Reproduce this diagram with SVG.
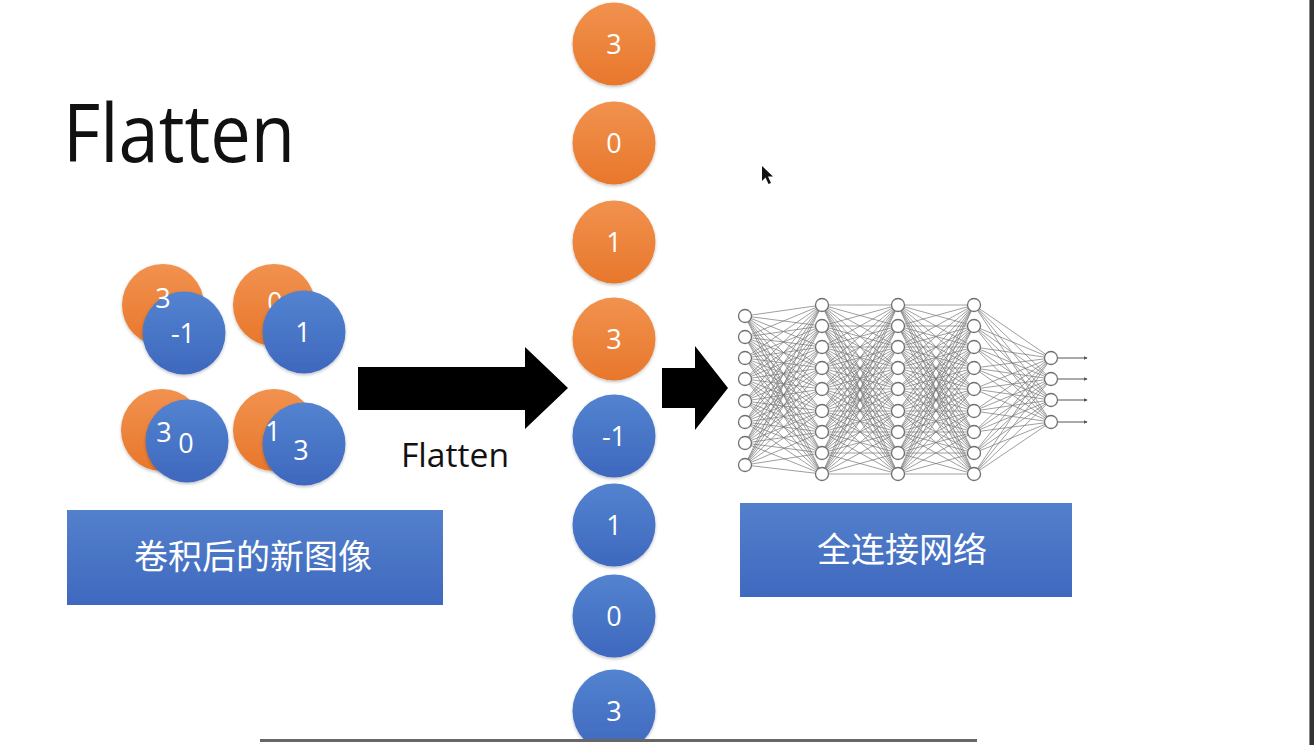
<svg xmlns="http://www.w3.org/2000/svg" xmlns:xlink="http://www.w3.org/1999/xlink" width="1314" height="745" viewBox="0 0 1314 745">
<defs>
<linearGradient id="og" x1="0" y1="0" x2="0" y2="1"><stop offset="0" stop-color="#F1924F"/><stop offset="1" stop-color="#E8772B"/></linearGradient>
<linearGradient id="bg" x1="0" y1="0" x2="0" y2="1"><stop offset="0" stop-color="#5383D0"/><stop offset="1" stop-color="#3E68BE"/></linearGradient>
<linearGradient id="boxg" x1="0" y1="0" x2="0" y2="1"><stop offset="0" stop-color="#5380CC"/><stop offset="1" stop-color="#3F69BF"/></linearGradient>
<filter id="sh" x="-20%" y="-20%" width="140%" height="140%"><feDropShadow dx="0" dy="1.5" stdDeviation="1.5" flood-color="#000" flood-opacity="0.25"/></filter>
<marker id="ah" viewBox="0 0 6 6" refX="5" refY="3" markerWidth="4" markerHeight="4" orient="auto"><path d="M0 0L6 3L0 6Z" fill="#555"/></marker>
<path id="ebb" d="M0 305L76 305M0 305L76 326M0 305L76 347M0 305L76 368M0 305L76 389M0 305L76 411M0 305L76 432M0 305L76 453M0 305L76 474M0 326L76 305M0 326L76 326M0 326L76 347M0 326L76 368M0 326L76 389M0 326L76 411M0 326L76 432M0 326L76 453M0 326L76 474M0 347L76 305M0 347L76 326M0 347L76 347M0 347L76 368M0 347L76 389M0 347L76 411M0 347L76 432M0 347L76 453M0 347L76 474M0 368L76 305M0 368L76 326M0 368L76 347M0 368L76 368M0 368L76 389M0 368L76 411M0 368L76 432M0 368L76 453M0 368L76 474M0 389L76 305M0 389L76 326M0 389L76 347M0 389L76 368M0 389L76 389M0 389L76 411M0 389L76 432M0 389L76 453M0 389L76 474M0 411L76 305M0 411L76 326M0 411L76 347M0 411L76 368M0 411L76 389M0 411L76 411M0 411L76 432M0 411L76 453M0 411L76 474M0 432L76 305M0 432L76 326M0 432L76 347M0 432L76 368M0 432L76 389M0 432L76 411M0 432L76 432M0 432L76 453M0 432L76 474M0 453L76 305M0 453L76 326M0 453L76 347M0 453L76 368M0 453L76 389M0 453L76 411M0 453L76 432M0 453L76 453M0 453L76 474M0 474L76 305M0 474L76 326M0 474L76 347M0 474L76 368M0 474L76 389M0 474L76 411M0 474L76 432M0 474L76 453M0 474L76 474"/>
</defs>
<style>
.o{fill:url(#og);filter:url(#sh)}
.b{fill:url(#bg);filter:url(#sh)}
.num{font-family:"Open Sans","Liberation Sans",sans-serif;font-size:27px;fill:#fff;text-anchor:middle}
.box{fill:url(#boxg)}
.cjk{font-family:"Noto Sans CJK SC","Noto Sans",sans-serif;font-size:34px;fill:#fff;text-anchor:middle}
.edge{stroke:#767676;stroke-width:0.7;fill:none}
.node{fill:#fff;stroke:#707070;stroke-width:1.3}
.arrow{fill:#000}
</style>
<rect width="1314" height="745" fill="#fff"/>

<g id="title"><text x="63" y="162" font-family="'Open Sans','Liberation Sans',sans-serif" font-size="80" fill="#111" textLength="232" lengthAdjust="spacingAndGlyphs">Flatten</text></g>

<g id="feature-map-1">
<circle class="o" cx="163" cy="305" r="41"/>
<circle class="b" cx="184" cy="333" r="41.5"/>
<text class="num" x="163" y="308">3</text>
<text class="num" x="183" y="343">-1</text>
</g>
<g id="feature-map-2">
<circle class="o" cx="274" cy="305" r="41"/>
<text class="num" x="275" y="312">0</text>
<circle class="b" cx="304" cy="332" r="41.5"/>
<text class="num" x="303" y="342">1</text>
</g>
<g id="feature-map-3">
<circle class="o" cx="162" cy="430" r="41"/>
<circle class="b" cx="187" cy="441" r="41.5"/>
<text class="num" x="164" y="442">3</text>
<text class="num" x="186" y="453">0</text>
</g>
<g id="feature-map-4">
<circle class="o" cx="274" cy="430" r="41"/>
<circle class="b" cx="304" cy="444" r="41.5"/>
<text class="num" x="273" y="441">1</text>
<text class="num" x="301" y="460">3</text>
</g>

<g id="box-left"><rect class="box" x="67" y="510" width="376" height="95"/><text class="cjk" x="253" y="569">卷积后的新图像</text></g>

<g id="label-flatten"><text x="401" y="467" font-family="'Open Sans','Liberation Sans',sans-serif" font-size="32" fill="#111" textLength="108" lengthAdjust="spacingAndGlyphs">Flatten</text></g>

<g id="vector">
<g id="v0"><circle class="o" cx="614" cy="44" r="41.5"/><text class="num" x="614" y="54">3</text></g>
<g id="v1"><circle class="o" cx="614" cy="143" r="41.5"/><text class="num" x="614" y="153">0</text></g>
<g id="v2"><circle class="o" cx="614" cy="242" r="41.5"/><text class="num" x="614" y="252">1</text></g>
<g id="v3"><circle class="o" cx="614" cy="339" r="41.5"/><text class="num" x="614" y="349">3</text></g>
<g id="v4"><circle class="b" cx="614" cy="436" r="41.5"/><text class="num" x="614" y="446">-1</text></g>
<g id="v5"><circle class="b" cx="614" cy="525" r="41.5"/><text class="num" x="614" y="535">1</text></g>
<g id="v6"><circle class="b" cx="614" cy="616" r="41.5"/><text class="num" x="614" y="626">0</text></g>
<g id="v7"><circle class="b" cx="614" cy="711" r="41.5"/><text class="num" x="614" y="721">3</text></g>
</g>

<g id="network">
<path class="edge" d="M745 316L822 305M745 316L822 326M745 316L822 347M745 316L822 368M745 316L822 389M745 316L822 411M745 316L822 432M745 316L822 453M745 316L822 474M745 337L822 305M745 337L822 326M745 337L822 347M745 337L822 368M745 337L822 389M745 337L822 411M745 337L822 432M745 337L822 453M745 337L822 474M745 358L822 305M745 358L822 326M745 358L822 347M745 358L822 368M745 358L822 389M745 358L822 411M745 358L822 432M745 358L822 453M745 358L822 474M745 379L822 305M745 379L822 326M745 379L822 347M745 379L822 368M745 379L822 389M745 379L822 411M745 379L822 432M745 379L822 453M745 379L822 474M745 401L822 305M745 401L822 326M745 401L822 347M745 401L822 368M745 401L822 389M745 401L822 411M745 401L822 432M745 401L822 453M745 401L822 474M745 422L822 305M745 422L822 326M745 422L822 347M745 422L822 368M745 422L822 389M745 422L822 411M745 422L822 432M745 422L822 453M745 422L822 474M745 443L822 305M745 443L822 326M745 443L822 347M745 443L822 368M745 443L822 389M745 443L822 411M745 443L822 432M745 443L822 453M745 443L822 474M745 465L822 305M745 465L822 326M745 465L822 347M745 465L822 368M745 465L822 389M745 465L822 411M745 465L822 432M745 465L822 453M745 465L822 474"/>
<use href="#ebb" xlink:href="#ebb" class="edge" transform="translate(822 0)"/>
<use href="#ebb" xlink:href="#ebb" class="edge" transform="translate(898 0)"/>
<path class="edge" d="M974 305L1051 358M974 305L1051 379M974 305L1051 400M974 305L1051 422M974 326L1051 358M974 326L1051 379M974 326L1051 400M974 326L1051 422M974 347L1051 358M974 347L1051 379M974 347L1051 400M974 347L1051 422M974 368L1051 358M974 368L1051 379M974 368L1051 400M974 368L1051 422M974 389L1051 358M974 389L1051 379M974 389L1051 400M974 389L1051 422M974 411L1051 358M974 411L1051 379M974 411L1051 400M974 411L1051 422M974 432L1051 358M974 432L1051 379M974 432L1051 400M974 432L1051 422M974 453L1051 358M974 453L1051 379M974 453L1051 400M974 453L1051 422M974 474L1051 358M974 474L1051 379M974 474L1051 400M974 474L1051 422"/>
<g stroke="#555" stroke-width="1" marker-end="url(#ah)">
<line x1="1058" y1="358" x2="1087" y2="358"/>
<line x1="1058" y1="379" x2="1087" y2="379"/>
<line x1="1058" y1="400" x2="1087" y2="400"/>
<line x1="1058" y1="422" x2="1087" y2="422"/>
</g>
<g class="node">
<circle cx="745" cy="316" r="6.5"/><circle cx="745" cy="337" r="6.5"/><circle cx="745" cy="358" r="6.5"/><circle cx="745" cy="379" r="6.5"/><circle cx="745" cy="401" r="6.5"/><circle cx="745" cy="422" r="6.5"/><circle cx="745" cy="443" r="6.5"/><circle cx="745" cy="465" r="6.5"/>
<circle cx="822" cy="305" r="6.5"/><circle cx="822" cy="326" r="6.5"/><circle cx="822" cy="347" r="6.5"/><circle cx="822" cy="368" r="6.5"/><circle cx="822" cy="389" r="6.5"/><circle cx="822" cy="411" r="6.5"/><circle cx="822" cy="432" r="6.5"/><circle cx="822" cy="453" r="6.5"/><circle cx="822" cy="474" r="6.5"/>
<circle cx="898" cy="305" r="6.5"/><circle cx="898" cy="326" r="6.5"/><circle cx="898" cy="347" r="6.5"/><circle cx="898" cy="368" r="6.5"/><circle cx="898" cy="389" r="6.5"/><circle cx="898" cy="411" r="6.5"/><circle cx="898" cy="432" r="6.5"/><circle cx="898" cy="453" r="6.5"/><circle cx="898" cy="474" r="6.5"/>
<circle cx="974" cy="305" r="6.5"/><circle cx="974" cy="326" r="6.5"/><circle cx="974" cy="347" r="6.5"/><circle cx="974" cy="368" r="6.5"/><circle cx="974" cy="389" r="6.5"/><circle cx="974" cy="411" r="6.5"/><circle cx="974" cy="432" r="6.5"/><circle cx="974" cy="453" r="6.5"/><circle cx="974" cy="474" r="6.5"/>
<circle cx="1051" cy="358" r="6.5"/><circle cx="1051" cy="379" r="6.5"/><circle cx="1051" cy="400" r="6.5"/><circle cx="1051" cy="422" r="6.5"/>
</g>
</g>

<g id="box-right"><rect class="box" x="740" y="503" width="332" height="94"/><text class="cjk" x="902" y="562">全连接网络</text></g>

<g id="connectors">
<path class="arrow" d="M358 367H525V347L568 388L525 429V410H358Z"/>
<path class="arrow" d="M662 368H695V346L728 388L695 430V408H662Z"/>
</g>

<g id="frame">
<rect x="0" y="742" width="1309" height="3" fill="#fff"/>
<rect x="260" y="739" width="717" height="3" fill="#666"/>
<rect x="1309" y="0" width="5" height="745" fill="#303434"/>
<rect x="1309" y="0" width="1" height="745" fill="#8a8a8a"/>
<path d="M762 166L762 181L765.5 177.5L768.5 184L771 183L768 176.5L773 176.5Z" fill="#111"/>
</g>
</svg>
